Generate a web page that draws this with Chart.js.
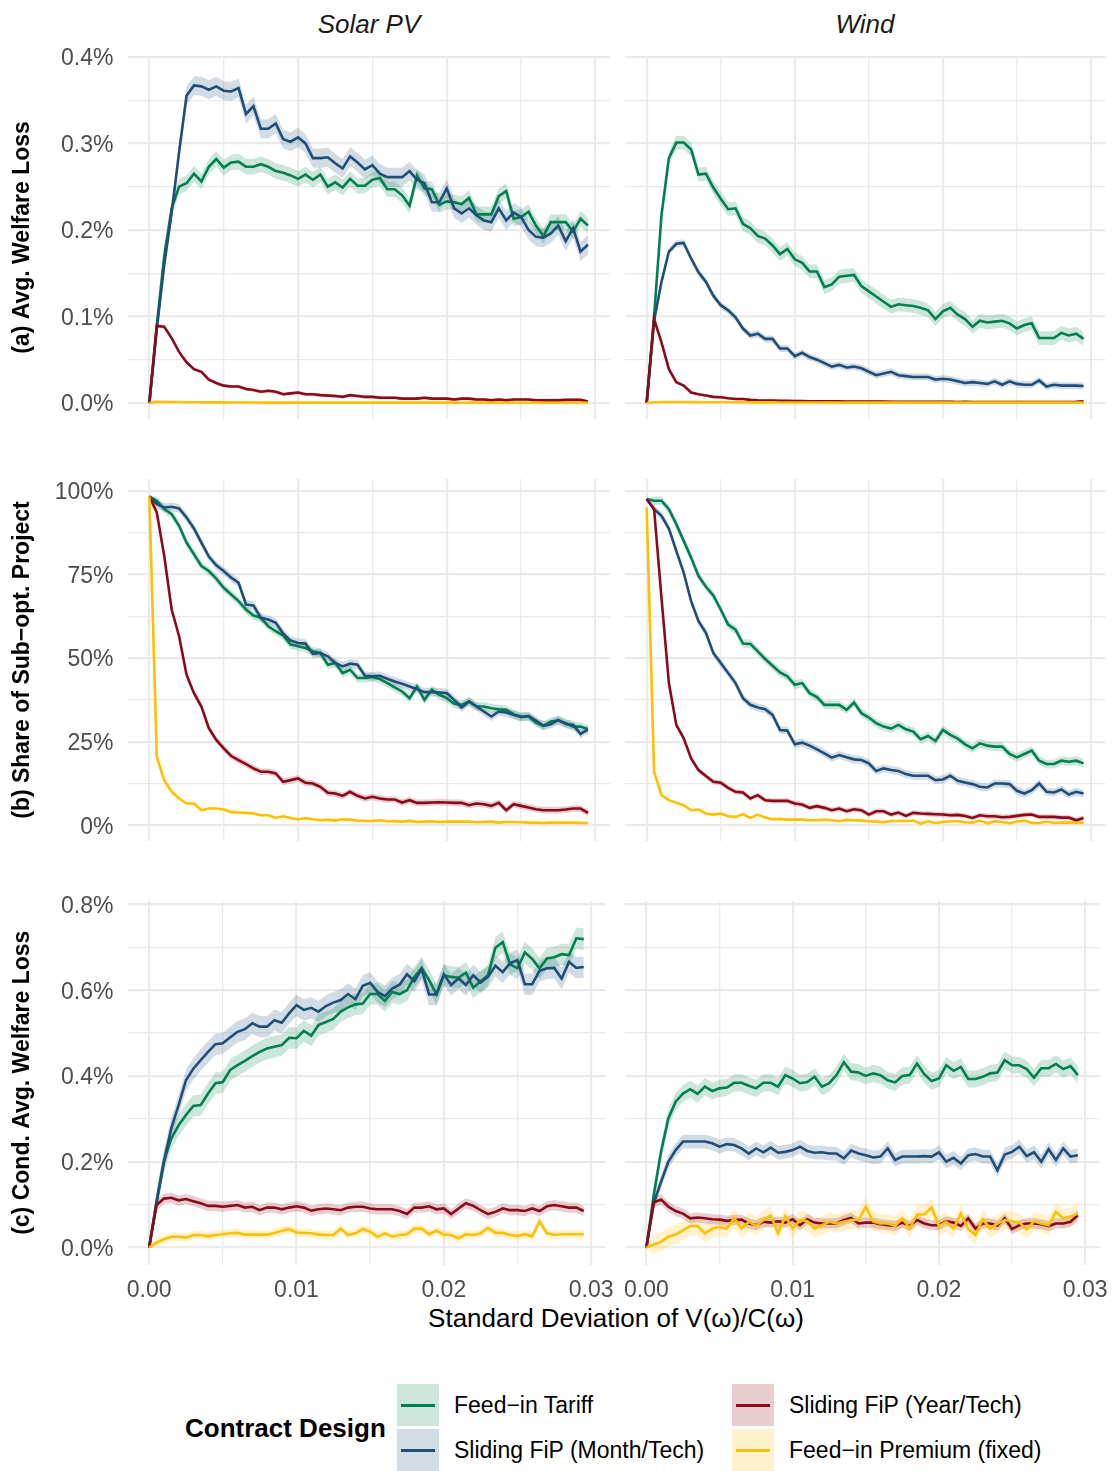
<!DOCTYPE html>
<html lang="en">
<head>
<meta charset="utf-8">
<title>Welfare loss by contract design</title>
<script src="https://cdn.jsdelivr.net/npm/chart.js@4.4.1/dist/chart.umd.min.js"></script>
<style>
  html, body { margin: 0; padding: 0; background: #fff; }
  body { font-family: "Liberation Sans", Arial, Helvetica, sans-serif; color: #000; }
  #page { position: relative; width: 1120px; height: 1471px; overflow: hidden; }
  #page canvas { position: absolute; }
  .strip { position: absolute; top: 11px; font-size: 26px; line-height: 26px; font-style: italic; color: #1a1a1a; transform: translateX(-50%); white-space: nowrap; }
  .xtitle { position: absolute; left: 616px; top: 1305px; font-size: 26px; line-height: 26px; transform: translateX(-50%); white-space: nowrap; }
  .lg-title { position: absolute; left: 185px; top: 1407px; height: 42px; line-height: 42px; font-size: 26px; font-weight: bold; white-space: nowrap; }
  .key { position: absolute; width: 42px; height: 42px; }
  .key i { position: absolute; left: 4px; right: 4px; top: 19.5px; height: 3px; }
  .lg-label { position: absolute; height: 42px; line-height: 42px; font-size: 23px; white-space: nowrap; }
</style>
</head>
<body>
<div id="page">
  <div class="strip" style="left:369px">Solar PV</div>
  <div class="strip" style="left:865px">Wind</div>
  <div class="xtitle">Standard Deviation of V(ω)/C(ω)</div>
  <div class="lg-title">Contract Design</div>
</div>
<script>
// standard deviation grid (x)
const sdGrid = [0, 0.0005, 0.001, 0.0015, 0.002, 0.0025, 0.003, 0.0035, 0.004, 0.0045,
  0.005, 0.0055, 0.006, 0.0065, 0.007, 0.0075, 0.008, 0.0085, 0.009, 0.0095,
  0.01, 0.0105, 0.011, 0.0115, 0.012, 0.0125, 0.013, 0.0135, 0.014, 0.0145,
  0.015, 0.0155, 0.016, 0.0165, 0.017, 0.0175, 0.018, 0.0185, 0.019, 0.0195,
  0.02, 0.0205, 0.021, 0.0215, 0.022, 0.0225, 0.023, 0.0235, 0.024, 0.0245,
  0.025, 0.0255, 0.026, 0.0265, 0.027, 0.0275, 0.028, 0.0285, 0.029, 0.0295];

const designNames = ['Feed−in Tariff', 'Sliding FiP (Month/Tech)', 'Sliding FiP (Year/Tech)', 'Feed−in Premium (fixed)'];
const designColors = ['#00804f', '#1f4e79', '#8b0a1a', '#ffc000'];

// (a) avg. welfare loss, in %
const solarLossFiT = [0, .09, .17, .225, .25, .254, .265, .256, .273, .282,
  .272, .278, .279, .273, .273, .276, .273, .268, .266, .263,
  .259, .264, .258, .264, .250, .255, .249, .259, .251, .251,
  .258, .260, .247, .247, .240, .228, .263, .248, .247, .229,
  .233, .232, .230, .237, .218, .218, .218, .239, .245, .213,
  .215, .221, .205, .193, .209, .209, .209, .198, .213, .205];
const solarLossMonth = [0, .085, .16, .22, .29, .355, .367, .366, .362, .366,
  .361, .360, .364, .334, .343, .317, .317, .323, .305, .302,
  .307, .300, .283, .283, .284, .277, .271, .285, .278, .270,
  .275, .265, .261, .261, .261, .268, .258, .254, .232, .232,
  .248, .225, .219, .225, .217, .211, .209, .225, .211, .220,
  .215, .200, .192, .191, .196, .205, .187, .202, .175, .183];
const solarLossYear = [0, .089, .088, .075, .059, .047, .039, .036, .027, .023,
  .020, .019, .019, .016, .015, .013, .014, .013, .010, .011,
  .012, .010, .010, .009, .0085, .008, .007, .009, .008, .007,
  .007, .006, .006, .006, .005, .005, .005, .006, .005, .005,
  .005, .004, .005, .005, .004, .004, .003, .004, .003, .004,
  .004, .004, .003, .003, .003, .003, .0035, .0035, .0035, .0015];
const solarLossFixed = [0, .0012, .0012, .0011, .0009, .0008, .0007, .0007, .0006, .0006,
  .0006, .0005, .0005, .0005, .0005, .0005, .0004, .0005, .0004, .0004,
  .0004, .0004, .0004, .0004, .0003, .0004, .0004, .0003, .0003, .0004,
  .0003, .0003, .0003, .0003, .0003, .0003, .0003, .0003, .0003, .0003,
  .0003, .0003, .0002, .0003, .0003, .0003, .0002, .0003, .0002, .0002,
  .0002, .0002, .0003, .0002, .0002, .0002, .0002, .0002, .0002, .0002];

const windLossFiT = [0, .10, .217, .283, .301, .301, .293, .264, .265, .249,
  .236, .224, .225, .207, .202, .193, .190, .182, .172, .178,
  .166, .162, .152, .152, .134, .137, .146, .147, .148, .135,
  .129, .123, .117, .111, .114, .113, .112, .110, .107, .097,
  .106, .110, .102, .097, .088, .095, .093, .094, .095, .092,
  .086, .090, .092, .075, .075, .075, .081, .078, .080, .074];
const windLossMonth = [0, .095, .140, .175, .184, .185, .167, .151, .140, .124,
  .113, .107, .099, .086, .078, .080, .074, .074, .063, .063,
  .054, .058, .053, .050, .046, .042, .044, .041, .042, .040,
  .036, .032, .034, .036, .032, .031, .030, .030, .030, .027,
  .028, .027, .025, .023, .024, .023, .022, .025, .021, .025,
  .022, .021, .021, .026, .019, .021, .020, .020, .020, .0195];
const windLossYear = [0, .097, .070, .039, .024, .020, .012, .010, .0085, .007,
  .0066, .0054, .0046, .0046, .0035, .003, .0028, .0027, .0025, .0025,
  .0023, .0022, .002, .002, .0019, .0018, .0018, .0017, .0016, .0016,
  .0015, .0015, .0015, .0014, .0014, .0013, .0014, .0013, .0012, .0013,
  .0012, .0012, .0011, .0012, .0011, .0011, .0011, .001, .0011, .001,
  .001, .001, .0011, .001, .001, .001, .0009, .001, .0012, .0018];
const windLossFixed = [0, .0008, .0009, .001, .0011, .001, .0009, .0009, .0008, .0008,
  .0008, .0007, .0007, .0007, .0006, .0006, .0006, .0006, .0005, .0005,
  .0005, .0005, .0005, .0005, .0004, .0004, .0004, .0004, .0004, .0004,
  .0004, .0004, .0004, .0003, .0003, .0003, .0003, .0003, .0003, .0003,
  .0003, .0003, .0003, .0003, .0003, .0003, .0003, .0003, .0003, .0003,
  .0003, .0003, .0003, .0003, .0003, .0003, .0003, .0003, .0003, .0003];

// (b) share of sub-optimal projects, in %
const solarShareFiT = [98.3, 97, 94.5, 93, 89.5, 84.5, 81, 77.5, 76, 73.7,
  71, 69, 67, 64.5, 62.7, 62, 59.5, 58, 56.7, 54,
  53.5, 53, 52, 51.5, 48, 48.5, 45.5, 46.5, 44, 44,
  44.3, 43.7, 42.5, 41.2, 40, 38, 41.5, 37.5, 40.5, 39,
  38, 36.3, 36, 37, 35.5, 35.5, 35, 34.7, 34.5, 33.2,
  32.5, 32.5, 30.7, 29.7, 31, 31.3, 30.5, 29.5, 29.5, 28.7];
const solarShareMonth = [98.3, 96, 95, 95.2, 94.7, 92, 88.7, 84.5, 80.3, 77.7,
  76, 74, 72.5, 66, 65.7, 62, 61.5, 60.5, 57.3, 55.2,
  54.5, 54.3, 51.2, 51.5, 50.5, 48.5, 47.5, 48.3, 48, 44.7,
  44.5, 44.7, 43.8, 43, 42.3, 41.5, 40.7, 39.8, 39.8, 39.7,
  39.5, 37.5, 35.2, 37, 35.5, 34, 32.5, 34, 33.7, 33,
  32.3, 32.7, 31.3, 29.7, 30.2, 31.5, 30.3, 30, 27.3, 28.7];
const solarShareYear = [98.3, 93.5, 80.5, 64.5, 56.5, 45, 39.5, 35.5, 29, 25.5,
  23, 20.7, 19.5, 18.3, 17, 16, 16, 15.5, 13, 13.5,
  14, 12.7, 12.5, 11.5, 9.7, 9.5, 8.8, 10, 8.8, 8,
  8.5, 8, 7.7, 7.7, 6.8, 7.5, 6.7, 6.7, 6.8, 6.9,
  6.8, 6.7, 6.7, 6, 6.5, 6.3, 5.8, 6.7, 4.5, 6.3,
  5.8, 5.3, 4.8, 4.5, 4.5, 4.5, 4.7, 5, 5, 3.7];
const solarShareFixed = [98.3, 20.5, 13.5, 10, 8, 6.5, 6.5, 4.5, 5, 5,
  4.7, 4, 3.8, 3.7, 3.5, 3, 3, 2.2, 2.7, 2.2,
  1.8, 2.1, 1.8, 1.5, 1.7, 1.4, 1.8, 1.7, 1.4, 1.3,
  1.3, 1.5, 1.2, 1.2, 1.1, 1.3, 1.0, 1.1, 1.2, 1.0,
  1.1, 1.1, 1.1, 1.1, 0.9, 1.0, 1.1, 0.8, 1.0, 1.0,
  0.9, 0.8, 0.8, 0.7, 0.8, 0.8, 0.8, 0.8, 0.7, 0.7];

const windShareFiT = [97.5, 97, 97, 94.5, 90, 85, 80, 74.5, 71.3, 68.7,
  64.5, 60, 58.5, 54.3, 54.2, 52, 49.7, 47.7, 45.7, 44.5,
  42, 42.5, 39.5, 38.3, 36, 36, 36, 34.5, 36.7, 33.5,
  32.2, 30.5, 29.5, 28.9, 30, 28.7, 28, 25.7, 26.7, 25.2,
  28.5, 27, 25.9, 24.2, 23, 24.5, 23.8, 23.5, 23.5, 21.3,
  20.3, 21.3, 22.3, 19.3, 18.3, 18.3, 19.3, 19, 19.3, 18.5];
const windShareMonth = [97.5, 94.5, 92.5, 88.7, 82, 75.5, 67, 61, 57.5, 51.5,
  48.5, 45.5, 42.5, 38, 36, 35.2, 34.7, 33, 28.5, 28.3,
  24.2, 24.7, 23.8, 22.7, 21.5, 20.2, 21, 20.3, 19.7, 19.5,
  18.5, 16.2, 17, 16.5, 16.2, 15.3, 14.8, 14.8, 14.8, 13.5,
  13.7, 14.8, 13.3, 12.8, 12.3, 11.5, 11.3, 12.5, 12.5, 12.3,
  10.3, 9.5, 10.5, 12.5, 10, 9.8, 10.7, 9.2, 10, 9.5];
const windShareYear = [97.5, 94.5, 68, 42.5, 30, 26, 20, 16.5, 14.7, 13,
  12.7, 11.2, 10, 9.8, 8, 9, 7.5, 7.3, 7.3, 7.3,
  6.5, 6.2, 5.2, 5.7, 5.2, 4.5, 5, 4.2, 4.8, 4.5,
  3.2, 4.2, 4.2, 3.2, 3.8, 2.8, 3.7, 3.5, 3.4, 3.3,
  3.2, 3.0, 3.1, 2.8, 2.2, 3.0, 2.7, 2.7, 2.4, 2.5,
  2.8, 3.1, 3.2, 2.5, 2.5, 2.5, 2.3, 2.3, 1.5, 2.2];
const windShareFixed = [95, 16, 9, 7.5, 6.7, 6, 4.5, 4.7, 3.5, 3.2,
  3.5, 2.7, 2.5, 3.3, 2.2, 3.2, 2.3, 1.8, 1.9, 1.7,
  1.7, 1.7, 1.5, 1.5, 1.7, 1.5, 1.2, 1.6, 1.5, 1.4,
  1.2, 1.1, 0.9, 1.3, 1.3, 1.3, 1.4, 0.5, 1.2, 0.7,
  1.0, 1.2, 1.2, 0.9, 0.8, 1.4, 0.6, 1.2, 1.0, 0.6,
  1.1, 1.4, 0.7, 0.7, 1.1, 0.7, 0.8, 0.8, 0.7, 0.8];

// (c) conditional avg. welfare loss, in %
const solarCondFiT = [0, .106, .20, .254, .285, .309, .330, .332, .359, .383,
  .386, .414, .425, .435, .446, .456, .464, .468, .472, .489,
  .488, .505, .494, .519, .526, .533, .550, .560, .567, .569,
  .591, .591, .575, .596, .591, .600, .631, .652, .624, .590,
  .635, .631, .629, .641, .606, .621, .635, .699, .712, .660,
  .651, .688, .673, .651, .674, .677, .684, .682, .721, .719];
const solarCondMonth = [0, .106, .20, .278, .332, .390, .417, .437, .456, .474,
  .476, .490, .503, .509, .523, .515, .515, .530, .524, .546,
  .565, .554, .559, .550, .563, .571, .577, .591, .579, .610,
  .617, .596, .586, .604, .613, .637, .621, .649, .590, .590,
  .637, .612, .628, .612, .635, .618, .631, .657, .642, .663,
  .670, .614, .614, .645, .651, .652, .627, .666, .652, .654];
const solarCondYear = [0, .099, .114, .116, .110, .113, .108, .103, .097, .097,
  .095, .097, .099, .093, .095, .087, .093, .093, .089, .093,
  .096, .093, .086, .089, .091, .089, .087, .093, .095, .095,
  .091, .089, .089, .089, .085, .078, .093, .093, .096, .089,
  .091, .078, .091, .103, .097, .087, .078, .083, .091, .087,
  .087, .085, .091, .085, .096, .099, .096, .093, .093, .085];
const solarCondFixed = [0, .011, .019, .025, .025, .023, .029, .029, .026, .029,
  .031, .033, .034, .030, .030, .030, .030, .034, .039, .043,
  .035, .034, .033, .030, .029, .029, .044, .029, .033, .043,
  .037, .025, .033, .025, .029, .031, .044, .044, .031, .039,
  .030, .029, .021, .031, .029, .033, .046, .034, .034, .029,
  .027, .031, .026, .061, .033, .029, .031, .031, .031, .031];

const windCondFiT = [0, .122, .223, .301, .340, .359, .369, .358, .375, .365,
  .371, .373, .384, .384, .377, .371, .384, .384, .375, .402,
  .394, .383, .386, .398, .375, .383, .402, .432, .410, .408,
  .400, .406, .402, .390, .385, .400, .402, .429, .404, .388,
  .394, .425, .412, .421, .393, .393, .398, .406, .408, .437,
  .425, .425, .416, .396, .418, .418, .428, .416, .423, .402];
const windCondMonth = [0, .103, .153, .200, .227, .247, .247, .247, .247, .243,
  .235, .241, .239, .231, .219, .231, .222, .233, .221, .223,
  .227, .235, .225, .221, .222, .219, .219, .208, .226, .219,
  .215, .210, .212, .231, .204, .212, .212, .212, .213, .212,
  .222, .200, .209, .196, .215, .218, .212, .212, .180, .217,
  .223, .235, .213, .222, .200, .229, .204, .231, .212, .215];
const windCondYear = [0, .105, .112, .095, .085, .079, .068, .070, .068, .066,
  .065, .062, .064, .065, .056, .052, .060, .058, .061, .058,
  .066, .052, .066, .058, .056, .056, .056, .064, .069, .056,
  .058, .058, .054, .052, .050, .058, .050, .064, .056, .052,
  .052, .061, .058, .050, .068, .044, .056, .056, .051, .068,
  .043, .052, .056, .056, .054, .050, .056, .056, .060, .075];
const windCondFixed = [0, .007, .013, .025, .030, .040, .050, .050, .033, .044,
  .048, .044, .068, .044, .060, .050, .064, .075, .034, .073,
  .044, .064, .061, .044, .052, .060, .056, .060, .064, .064,
  .095, .061, .056, .056, .050, .068, .044, .077, .077, .093,
  .050, .060, .044, .079, .044, .029, .066, .044, .056, .064,
  .061, .058, .042, .061, .056, .052, .083, .068, .072, .079];

// ribbon half-widths per design [FiT, Month, Year, fixed]
const bandSolarLoss = [.009, .011, .002, .0004];
const bandWindLoss = [.008, .004, .0015, .0004];
const bandSolarShare = [1.3, 1.3, 1.0, 0.4];
const bandWindShare = [1.3, 1.2, 0.8, 0.4];
const bandSolarCond = [.025, .025, .012, .01];
const bandWindCond = [.02, .016, .012, .022];

// ticks (gridlines) and the ones that carry a label
const xTicks = [0, 0.005, 0.01, 0.015, 0.02, 0.025, 0.03];
const xLabelled = [0, 0.01, 0.02, 0.03];
const lossTicks = [0, .05, .1, .15, .2, .25, .3, .35, .4];
const lossLabelled = [0, .1, .2, .3, .4];
const shareTicks = [0, 12.5, 25, 37.5, 50, 62.5, 75, 87.5, 100];
const shareLabelled = [0, 25, 50, 75, 100];
const condTicks = [0, .1, .2, .3, .4, .5, .6, .7, .8];
const condLabelled = [0, .2, .4, .6, .8];

Chart.defaults.font.family = '"Liberation Sans", Arial, Helvetica, sans-serif';

const page = document.getElementById('page');
const X_MIN = -0.00147, X_MAX = 0.03098;
const MARGIN = 30; // room for half a tick label + tick padding

const cols = [
  { x: 0, w: 626, plotL: 127.5, plotR: 610 },
  { x: 605, w: 515, plotL: 624.9, plotR: 1105.5 },
];
const rows = [
  { plotT: 56.5, plotB: 418.5, min: -0.018, max: 0.4005, ticks: lossTicks, labelled: lossLabelled, fmt: v => v.toFixed(1) + '%', title: '(a) Avg. Welfare Loss' },
  { plotT: 479, plotB: 841, min: -4.7, max: 103.5, ticks: shareTicks, labelled: shareLabelled, fmt: v => v.toFixed(0) + '%', title: '(b) Share of Sub−opt. Project' },
  { plotT: 901, plotB: 1264.5, min: -0.0397, max: 0.808, ticks: condTicks, labelled: condLabelled, fmt: v => v.toFixed(1) + '%', title: '(c) Cond. Avg. Welfare Loss' },
];

const panels = [
  { row: 0, col: 0, series: [solarLossFiT, solarLossMonth, solarLossYear, solarLossFixed], band: bandSolarLoss },
  { row: 0, col: 1, series: [windLossFiT, windLossMonth, windLossYear, windLossFixed], band: bandWindLoss },
  { row: 1, col: 0, series: [solarShareFiT, solarShareMonth, solarShareYear, solarShareFixed], band: bandSolarShare },
  { row: 1, col: 1, series: [windShareFiT, windShareMonth, windShareYear, windShareFixed], band: bandWindShare },
  { row: 2, col: 0, series: [solarCondFiT, solarCondMonth, solarCondYear, solarCondFixed], band: bandSolarCond },
  { row: 2, col: 1, series: [windCondFiT, windCondMonth, windCondYear, windCondFixed], band: bandWindCond },
];

// yellow on top, then red, blue, green (ggplot group order)
const lineOrder = [4, 3, 2, 1];

function rgba(hex, a) {
  const n = parseInt(hex.slice(1), 16);
  return `rgba(${(n >> 16) & 255},${(n >> 8) & 255},${n & 255},${a})`;
}
const inList = (v, list) => list.some(t => Math.abs(t - v) < 1e-9);

function panel(p) {
  const col = cols[p.col], row = rows[p.row];
  const bottom = p.row === rows.length - 1;
  const axisH = bottom ? 50 : 0;
  const top = Math.floor(row.plotT - MARGIN);
  const end = Math.ceil(row.plotB + axisH + (bottom ? 6 : MARGIN));

  const canvas = document.createElement('canvas');
  canvas.width = col.w;
  canvas.height = end - top;
  canvas.style.left = col.x + 'px';
  canvas.style.top = top + 'px';
  page.appendChild(canvas);

  const datasets = [];
  p.series.forEach((vals, k) => {
    const w = p.band[k];
    const base = { borderWidth: 0, borderColor: 'rgba(0,0,0,0)', pointRadius: 0, order: 10 };
    datasets.push({ ...base, data: sdGrid.map((x, i) => ({ x, y: i === 0 ? vals[i] : vals[i] + w })), fill: '+1', backgroundColor: rgba(designColors[k], 0.2) });
    datasets.push({ ...base, data: sdGrid.map((x, i) => ({ x, y: i === 0 ? vals[i] : vals[i] - w })), fill: false });
  });
  p.series.forEach((vals, k) => {
    datasets.push({
      data: sdGrid.map((x, i) => ({ x, y: vals[i] })),
      borderColor: designColors[k],
      borderWidth: 2.6,
      pointRadius: 0,
      fill: false,
      order: lineOrder[k],
    });
  });

  const gridOpts = labelled => ({
    color: '#ebebeb',
    lineWidth: ctx => (ctx.tick && inList(ctx.tick.value, labelled) ? 2.2 : 1.3),
    drawTicks: false,
  });

  new Chart(canvas, {
    type: 'line',
    data: { datasets },
    options: {
      responsive: false,
      animation: false,
      devicePixelRatio: 1,
      layout: {
        padding: {
          left: p.col === 0 ? 0 : col.plotL - col.x,
          right: col.x + col.w - col.plotR,
          top: row.plotT - top,
          bottom: end - row.plotB - axisH,
        },
      },
      plugins: { legend: { display: false }, tooltip: { enabled: false } },
      scales: {
        x: {
          type: 'linear',
          bounds: 'data',
          min: X_MIN,
          max: X_MAX,
          afterBuildTicks: s => { s.ticks = xTicks.map(value => ({ value })); },
          afterFit: s => { s.height = axisH; },
          grid: gridOpts(xLabelled),
          border: { display: false },
          ticks: {
            display: bottom,
            autoSkip: false,
            maxRotation: 0,
            padding: 12,
            color: '#4d4d4d',
            font: { size: 23 },
            callback: v => (inList(v, xLabelled) ? v.toFixed(2) : ''),
          },
        },
        y: {
          type: 'linear',
          bounds: 'data',
          min: row.min,
          max: row.max,
          afterBuildTicks: s => { s.ticks = row.ticks.map(value => ({ value })); },
          afterFit: s => { s.width = p.col === 0 ? col.plotL - col.x : 0; },
          grid: gridOpts(row.labelled),
          border: { display: false },
          ticks: {
            display: p.col === 0,
            autoSkip: false,
            padding: 14,
            labelOffset: 2,
            color: '#4d4d4d',
            font: { size: 23 },
            callback: v => (inList(v, row.labelled) ? row.fmt(v) : ''),
          },
          title: {
            display: p.col === 0,
            text: row.title,
            color: '#000',
            font: { size: 23, weight: 'bold' },
            padding: { top: 9, bottom: 0 },
          },
        },
      },
    },
  });
}

panels.forEach(panel);

// legend, filled column by column like ggplot
const keySpots = [[397, 1384], [397, 1429], [732, 1384], [732, 1429]];
designNames.forEach((name, k) => {
  const [x, y] = keySpots[k];
  const key = document.createElement('div');
  key.className = 'key';
  key.style.left = x + 'px';
  key.style.top = y + 'px';
  key.style.background = rgba(designColors[k], 0.2);
  const line = document.createElement('i');
  line.style.background = designColors[k];
  key.appendChild(line);
  page.appendChild(key);

  const label = document.createElement('div');
  label.className = 'lg-label';
  label.style.left = (x + 57) + 'px';
  label.style.top = y + 'px';
  label.textContent = name;
  page.appendChild(label);
});
</script>
</body>
</html>
